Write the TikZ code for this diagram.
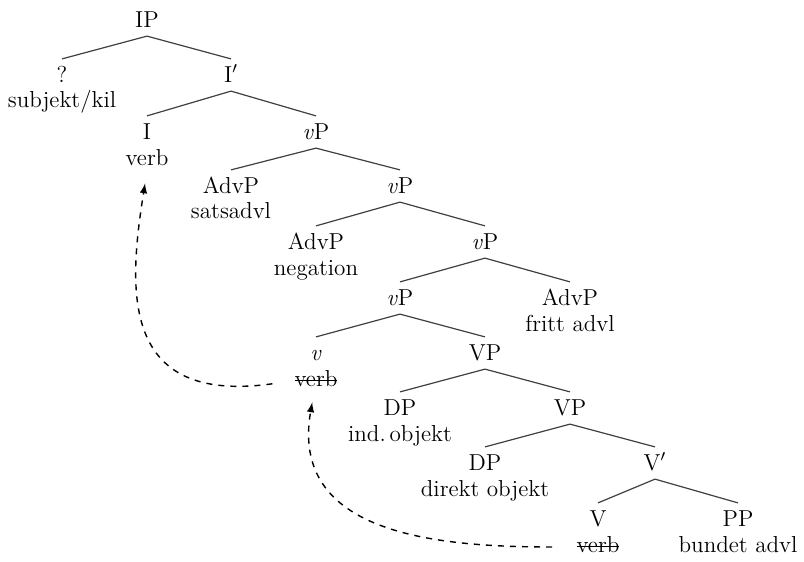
\documentclass[tikz,border=0pt]{standalone}
\usepackage{tikz}
\usetikzlibrary{arrows,positioning}

\newcommand\strikeword[1]{\begingroup\setbox0\hbox{#1}\rlap{\rule[0.55ex]{\wd0}{0.5pt}}\box0\endgroup}

\begin{document}
\begin{tikzpicture}[x=0.0175cm, y=-0.0175cm,
  cat/.style={inner sep=0pt, minimum height=0.55cm, text height=7pt, text depth=0pt, font=\fontsize{11.5}{13}\selectfont},
  word/.style={inner sep=1pt, text height=7pt, text depth=2pt, font=\fontsize{11.5}{13}\selectfont},
  branch/.style={draw=black!75, line width=0.6pt},
  move/.style={dashed, line width=0.7pt, -latex}]
  \useasboundingbox (0,0) rectangle (804,561);

  \node[cat] (ip) at (147,20) {IP};
  \node[cat] (spec) at (62,75) {?};
  \node[word] (specw) at (62,102) {subjekt/kil};
  \node[cat] (ibar) at (231,75) {I$'$};
  \node[cat] (i) at (147,132) {I};
  \node[word] (iw) at (147,160) {verb};
  \node[cat] (vpa) at (316,132) {\textit{v}P};
  \node[cat] (adva) at (231,186) {AdvP};
  \node[word] (advaw) at (231,213) {satsadvl};
  \node[cat] (vpb) at (400,186) {\textit{v}P};
  \node[cat] (advb) at (316,242) {AdvP};
  \node[word] (advbw) at (316,270) {negation};
  \node[cat] (vpc) at (485,242) {\textit{v}P};
  \node[cat] (vpd) at (400,298) {\textit{v}P};
  \node[cat] (advc) at (570,298) {AdvP};
  \node[word] (advcw) at (570,326) {fritt advl};
  \node[cat] (lv) at (316,353) {\textit{v}};
  \node[word] (lvw) at (316,381) {\strikeword{verb}};
  \node[cat] (vpe) at (485,353) {VP};
  \node[cat] (dpa) at (400,408) {DP};
  \node[word] (dpaw) at (400,436) {ind.\,objekt};
  \node[cat] (vpf) at (570,408) {VP};
  \node[cat] (dpb) at (485,463) {DP};
  \node[word] (dpbw) at (485,491) {direkt objekt};
  \node[cat] (vbar) at (655,463) {V$'$};
  \node[cat] (v) at (598,519) {V};
  \node[word] (vw) at (598,547) {\strikeword{verb}};
  \node[cat] (pp) at (738,519) {PP};
  \node[word] (ppw) at (738,547) {bundet advl};

  \foreach \a/\b in {ip/spec, ip/ibar, ibar/i, ibar/vpa, vpa/adva, vpa/vpb,
    vpb/advb, vpb/vpc, vpc/vpd, vpc/advc, vpd/lv, vpd/vpe, vpe/dpa, vpe/vpf,
    vpf/dpb, vpf/vbar, vbar/v, vbar/pp}
    \draw[branch] (\a.south) -- (\b.north);

  \draw[move, shorten <=10pt, shorten >=6pt] (lvw.west) .. controls (120,405) and (128,290) .. (iw.south);
  \draw[move, shorten <=11pt, shorten >=5pt] (vw) to[out=180, in=-100, looseness=1.2] (lvw);
\end{tikzpicture}
\end{document}
